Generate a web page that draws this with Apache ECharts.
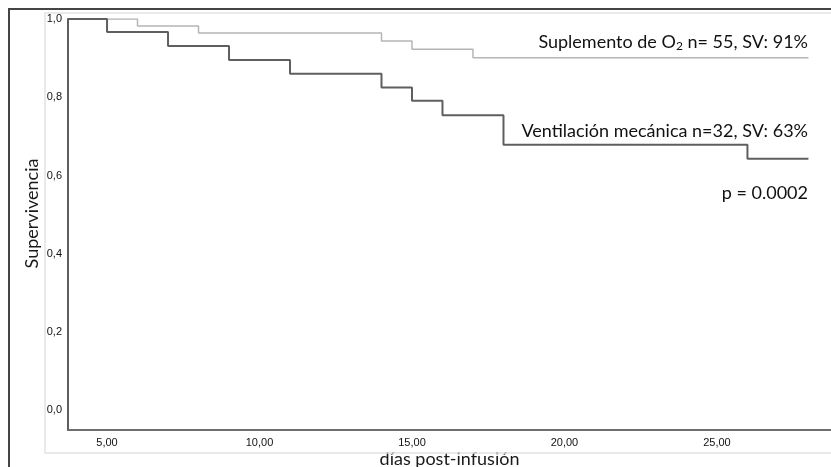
<!DOCTYPE html>
<html>
<head>
<meta charset="utf-8">
<script src="https://cdn.jsdelivr.net/npm/echarts@6/dist/echarts.min.js"></script>
<style>
  html, body { margin: 0; padding: 0; background: #fff; }
  #chart { width: 831px; height: 467px; }
</style>
</head>
<body>
<div id="chart"></div>
<script>
// curvas de Kaplan-Meier (días, supervivencia)
const startDay = 3.72
const endDay = 28
const o2Days = [startDay, 6, 8, 14, 15, 17, endDay]
const o2Surv = [1.0, 0.982, 0.964, 0.944, 0.923, 0.901, 0.901]
const vmDays = [startDay, 5, 7, 9, 11, 14, 15, 16, 18, 26, endDay]
const vmSurv = [1.0, 0.967, 0.931, 0.895, 0.86, 0.825, 0.791, 0.754, 0.679, 0.643, 0.643]

const xTicks = [5, 10, 15, 20, 25]
const yTicks = [0, 0.2, 0.4, 0.6, 0.8, 1.0]

const o2Label = "Suplemento de O{sub|2} n= 55, SV: 91%"
const vmLabel = "Ventilación mecánica n=32, SV: 63%"
const pLabel = "p = 0.0002"

const pairs = (xs, ys) => xs.map((x, i) => [x, ys[i]])

const chart = echarts.init(document.getElementById("chart"))

const labelFont = "Lato, 'Open Sans', sans-serif"
const tickFont = "'Liberation Sans', Arial, sans-serif"

chart.setOption({
  animation: false,
  grid: { left: 68, right: 0, top: 19, bottom: 37, containLabel: false, outerBoundsMode: "none" },
  xAxis: {
    type: "value",
    min: startDay,
    max: 28.74,
    name: "días post-infusión",
    nameLocation: "middle",
    nameGap: 20,
    nameMoveOverlap: false,
    nameTextStyle: { fontFamily: labelFont, fontSize: 18, color: "#1a1a1a" },
    axisLine: { onZero: false, lineStyle: { color: "#6e6e6e", width: 2 } },
    axisTick: { show: false },
    splitLine: { show: false },
    axisLabel: {
      customValues: xTicks,
      margin: 7,
      fontFamily: tickFont,
      fontSize: 11,
      color: "#111",
      formatter: (v) => v.toFixed(2).replace(".", ",")
    }
  },
  yAxis: {
    type: "value",
    min: -0.05,
    max: 1.0,
    name: "Supervivencia",
    nameLocation: "middle",
    nameRotate: 90,
    nameGap: 27,
    nameMoveOverlap: false,
    nameTextStyle: { fontFamily: labelFont, fontSize: 18, color: "#1a1a1a", padding: [0, 0, 0, 22] },
    axisLine: { show: true, onZero: false, lineStyle: { color: "#5e5e5e", width: 2 } },
    axisTick: { show: false },
    splitLine: { show: false },
    axisLabel: {
      customValues: yTicks,
      margin: 6,
      fontFamily: tickFont,
      fontSize: 11,
      color: "#111",
      formatter: (v) => v.toFixed(1).replace(".", ",")
    }
  },
  series: [
    {
      name: "Suplemento de O2",
      type: "line",
      step: "end",
      symbol: "none",
      lineStyle: { color: "#b5b5b5", width: 1.5 },
      data: pairs(o2Days, o2Surv)
    },
    {
      name: "Ventilación mecánica",
      type: "line",
      step: "end",
      symbol: "none",
      lineStyle: { color: "#5f5f5f", width: 2 },
      data: pairs(vmDays, vmSurv)
    }
  ],
  graphic: [
    // marco exterior
    {
      type: "polyline",
      shape: { points: [[9, 467], [9, 9], [831, 9]] },
      style: { stroke: "#454545", lineWidth: 2, fill: null },
      z: 1
    },
    // marco interior claro
    {
      type: "polyline",
      shape: { points: [[831, 13], [45, 13], [45, 453], [831, 453]] },
      style: { stroke: "#e2e2e2", lineWidth: 1.5, fill: null },
      z: 1
    },
    {
      type: "text",
      right: 23,
      top: 33,
      style: {
        text: o2Label,
        font: "18px " + labelFont,
        fill: "#111",
        rich: {
          sub: { fontSize: 12, verticalAlign: "bottom", padding: [9, 0, 0, 0], fontFamily: "Lato", fill: "#111" }
        }
      },
      z: 10
    },
    {
      type: "text",
      right: 23,
      top: 122,
      style: { text: vmLabel, font: "18px " + labelFont, fill: "#111" },
      z: 10
    },
    {
      type: "text",
      right: 23,
      top: 184,
      style: { text: pLabel, font: "18px " + labelFont, fill: "#111" },
      z: 10
    }
  ]
})
</script>
</body>
</html>
